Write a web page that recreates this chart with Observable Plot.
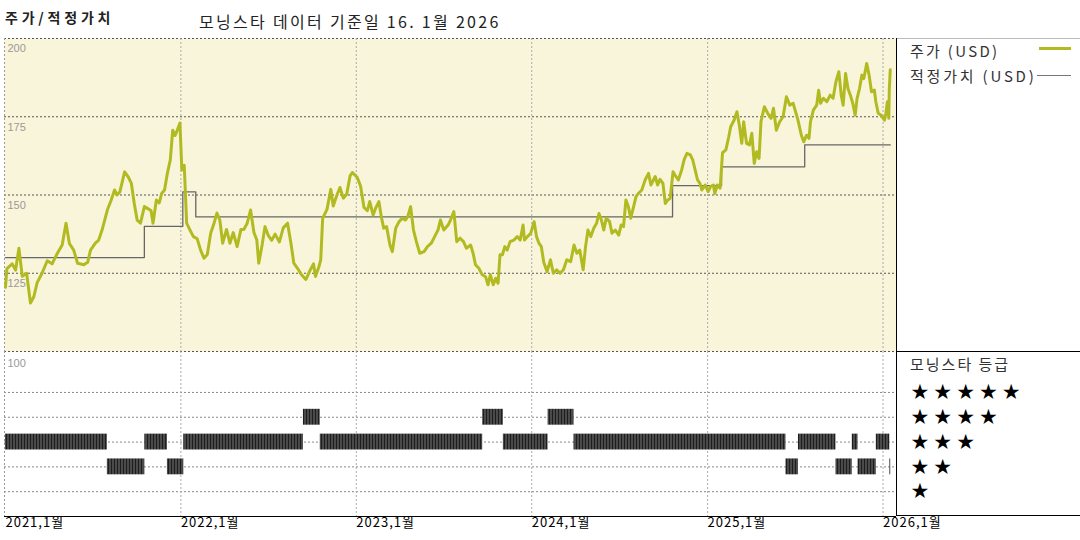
<!DOCTYPE html>
<html><head><meta charset="utf-8">
<script src="https://cdn.jsdelivr.net/npm/d3@7"></script>
<script src="https://cdn.jsdelivr.net/npm/@observablehq/plot@0.6"></script>
<style>
html,body{margin:0;padding:0;background:#fff;overflow:hidden;}
body{font-family:"Noto Sans CJK KR","Noto Sans",sans-serif;}
#wrap{position:relative;width:1080px;height:540px;overflow:hidden;}
.abs{position:absolute;line-height:1;white-space:nowrap;color:#222;}
svg{overflow:visible;}
</style></head><body><div id="wrap">
<div class="abs" style="left:5px;top:10px;font-size:14px;font-weight:bold;letter-spacing:3.8px;">주가/적정가치</div>
<div class="abs" style="left:199px;top:13px;font-size:16px;letter-spacing:2.3px;">모닝스타 데이터 기준일 16. 1월 2026</div>
<div id="top" style="position:absolute;left:0;top:30px;"></div>
<div id="bottom" style="position:absolute;left:0;top:350px;"></div>
<div style="position:absolute;left:896px;top:38px;width:184px;height:1px;background:#bbb;"></div>
<div style="position:absolute;left:896px;top:38px;width:1px;height:478px;background:#000;"></div>
<div style="position:absolute;left:896px;top:351px;width:184px;height:1px;background:#000;"></div>
<div style="position:absolute;left:896px;top:515px;width:184px;height:1px;background:#000;"></div>
<div class="abs" style="left:910px;top:43px;font-size:15px;letter-spacing:2.3px;color:#333;">주가 (USD)</div>
<div style="position:absolute;left:1039px;top:47px;width:32px;height:3px;background:#b2ba22;"></div>
<div class="abs" style="left:910px;top:68px;font-size:15px;letter-spacing:2.8px;color:#333;">적정가치 (USD)</div>
<div style="position:absolute;left:1037px;top:75px;width:34px;height:1px;background:#777;"></div>
<div class="abs" style="left:910px;top:356px;font-size:15px;letter-spacing:2px;color:#333;">모닝스타 등급</div>
</div>
<script>
// ---------- DATA ----------
const priceDates = [
"2021-01-01","2021-01-04","2021-01-15","2021-01-22","2021-01-29","2021-02-05","2021-02-14","2021-02-22","2021-03-01","2021-03-08",
"2021-03-18","2021-03-29","2021-04-08","2021-04-19","2021-04-29","2021-05-07","2021-05-14","2021-05-23","2021-05-31","2021-06-13",
"2021-06-21","2021-06-27","2021-07-07","2021-07-14","2021-07-21","2021-08-01","2021-08-09","2021-08-16","2021-08-21","2021-08-27",
"2021-09-06","2021-09-13","2021-09-20","2021-09-26","2021-10-02","2021-10-09","2021-10-17","2021-10-26","2021-10-31","2021-11-04",
"2021-11-11","2021-11-17","2021-11-22","2021-11-28","2021-12-04","2021-12-10","2021-12-15","2021-12-20","2021-12-24","2021-12-30",
"2022-01-03","2022-01-08","2022-01-13","2022-01-20","2022-01-27","2022-02-04","2022-02-11","2022-02-18","2022-02-25","2022-03-04",
"2022-03-11","2022-03-17","2022-03-23","2022-03-29","2022-04-06","2022-04-13","2022-04-20","2022-04-28","2022-05-06","2022-05-12",
"2022-05-19","2022-05-26","2022-06-02","2022-06-08","2022-06-12","2022-06-19","2022-06-25","2022-07-02","2022-07-09","2022-07-16",
"2022-07-25","2022-08-02","2022-08-11","2022-08-18","2022-08-24","2022-09-01","2022-09-09","2022-09-18","2022-09-27","2022-10-04",
"2022-10-08","2022-10-15","2022-10-19","2022-10-23","2022-11-01","2022-11-09","2022-11-14","2022-11-21","2022-11-28","2022-12-05",
"2022-12-12","2022-12-19","2022-12-24","2023-01-03","2023-01-10","2023-01-17","2023-01-24","2023-01-29","2023-02-05","2023-02-10",
"2023-02-17","2023-02-22","2023-02-27","2023-03-05","2023-03-12","2023-03-17","2023-03-24","2023-03-31","2023-04-07","2023-04-13",
"2023-04-18","2023-04-24","2023-04-30","2023-05-06","2023-05-13","2023-05-22","2023-05-29","2023-06-06","2023-06-13","2023-06-20",
"2023-06-25","2023-07-02","2023-07-11","2023-07-16","2023-07-23","2023-07-29","2023-08-05","2023-08-12","2023-08-18","2023-08-27",
"2023-09-01","2023-09-06","2023-09-13","2023-09-20","2023-09-27","2023-10-02","2023-10-07","2023-10-13","2023-10-18","2023-10-23",
"2023-10-27","2023-11-01","2023-11-06","2023-11-11","2023-11-17","2023-11-25","2023-12-02","2023-12-08","2023-12-14","2023-12-17",
"2023-12-23","2023-12-30","2024-01-06","2024-01-11","2024-01-16","2024-01-21","2024-01-26","2024-02-02","2024-02-09","2024-02-15",
"2024-02-22","2024-02-29","2024-03-07","2024-03-14","2024-03-22","2024-03-29","2024-04-04","2024-04-10","2024-04-17","2024-04-22",
"2024-04-27","2024-05-03","2024-05-09","2024-05-15","2024-05-20","2024-05-25","2024-05-30","2024-06-04","2024-06-11","2024-06-16",
"2024-06-23","2024-06-30","2024-07-05","2024-07-10","2024-07-15","2024-07-20","2024-07-25","2024-07-31","2024-08-05","2024-08-10",
"2024-08-17","2024-08-24","2024-08-31","2024-09-05","2024-09-14","2024-09-19","2024-09-24","2024-09-30","2024-10-05","2024-10-10",
"2024-10-15","2024-10-21","2024-10-25","2024-11-01","2024-11-08","2024-11-13","2024-11-19","2024-11-26","2024-12-01","2024-12-06",
"2024-12-11","2024-12-16","2024-12-20","2024-12-27","2025-01-02","2025-01-07","2025-01-13","2025-01-16","2025-01-21","2025-01-27",
"2025-02-01","2025-02-08","2025-02-14","2025-02-18","2025-02-25","2025-03-03","2025-03-08","2025-03-13","2025-03-17","2025-03-23",
"2025-03-29","2025-04-03","2025-04-08","2025-04-13","2025-04-18","2025-04-22","2025-04-29","2025-05-06","2025-05-13","2025-05-18",
"2025-05-24","2025-05-31","2025-06-07","2025-06-14","2025-06-21","2025-06-28","2025-07-03","2025-07-08","2025-07-15","2025-07-20",
"2025-07-26","2025-07-31","2025-08-03","2025-08-09","2025-08-16","2025-08-20","2025-08-24","2025-08-30","2025-09-06","2025-09-13",
"2025-09-19","2025-09-25","2025-10-01","2025-10-06","2025-10-10","2025-10-15","2025-10-20","2025-10-25","2025-10-30","2025-11-04",
"2025-11-08","2025-11-13","2025-11-18","2025-11-22","2025-11-28","2025-12-03","2025-12-08","2025-12-14","2025-12-17","2025-12-22",
"2025-12-28","2026-01-04","2026-01-07","2026-01-10","2026-01-13","2026-01-14","2026-01-16"
];
const priceValues = [
120.5,126.5,128,126,133,124,125,115.5,117.5,122,
125,129,128,131.4,134,141,134.5,132.4,128.2,127.7,
128.5,132.4,134.6,135.6,138.8,145.2,148.4,151.6,150,151,
157.4,155.9,153.7,147.3,142,141,146.3,145.5,145,141,
148.4,147.5,150.5,151.6,157,161.2,170.7,169,170.5,173,
158,159.5,141,138.8,136.7,136,132.4,129.8,131,137.8,
141,144.2,142,134.6,139,134.6,138,133.5,139,139,
141,145.2,138,135.6,128.2,134,139.9,137,135.5,137.5,
135,139.5,141,134.6,128.2,126.5,124.5,123,126,128,
124,127,129.3,142.5,145.4,151.8,146.5,149.7,152.4,149,
150.2,156.1,157.2,155.6,152.8,146,145,147.9,143.6,145.7,
147.9,143.1,139.4,139.9,134,131.9,139.4,141.5,142.6,142,
143.1,146.3,138.8,135.1,131.4,131.9,133.5,134.6,136.7,138.8,
142,138.8,140.4,142,144.7,135.1,136.2,135.1,133,134,
131.4,127.7,126.6,124.5,123.9,121.3,124.5,121.3,123.4,121.8,
130.9,130.9,133.5,132.4,135.1,135.6,136.7,135.6,140.4,135.6,
136.7,137.8,141.5,136.7,134.6,133.5,128.5,125.5,129.3,125,
126.1,125,126.1,129.3,128.7,134,131.4,132.4,126.1,133.5,
138.8,136.7,139.4,141,144.1,142,138.8,142.6,141.5,137.8,
138.8,137.2,140.4,139.9,148.4,146.3,142.6,146.3,149.5,150.5,
151.6,154.8,156.9,153.2,155.9,153.2,155,153.7,147.3,148.4,
148.9,157.4,156.4,154.8,158,161.2,163.3,162.8,161.2,158,
154.8,153.7,151.6,153.2,151.1,152.7,153.2,150.5,153.2,152.2,
163.5,164.4,168.6,171.8,173.9,176.6,172.3,166.5,173.4,166.5,
166,169.7,160.1,163.8,161.7,173.4,178.2,176.1,174.5,177.7,
170.7,173.4,175,181.4,178.7,179.3,176.6,173.9,169.1,167,
169.1,168.1,173.4,177.1,178.7,183.5,179.3,180.9,179.8,181.9,
180.9,186.2,189.4,181.9,178.7,188.8,184,181.9,179.3,175.5,
180.9,184,188.3,187.2,192,188.3,183,183.5,179.8,176.1,
175.5,173.9,176.1,179.8,174.5,183.5,190
];
const fairDates  = ["2021-01-01","2021-10-17","2022-01-05","2022-02-01","2024-10-20","2025-01-30","2025-07-22","2026-01-16"];
const fairValues = [130, 140, 151, 143, 153, 159, 166, 166];

const ratingStart = ["2021-01-01","2021-08-01","2021-10-18","2021-12-04","2022-01-07","2022-09-13","2022-10-18","2023-09-21","2023-11-03",
                     "2024-02-04","2024-03-29","2025-06-13","2025-07-09","2025-09-25","2025-10-29","2025-11-10","2025-12-18","2026-01-15"];
const ratingEnd   = ["2021-08-01","2021-10-18","2021-12-04","2022-01-07","2022-09-13","2022-10-18","2023-09-21","2023-11-03","2024-02-04",
                     "2024-03-29","2025-06-13","2025-07-09","2025-09-25","2025-10-29","2025-11-10","2025-12-18","2026-01-15","2026-01-17"];
const ratingStars = [3,2,3,2,3,4,3,4,3,4,3,2,3,2,3,2,3,2];

const priceTicks = [100, 125, 150, 175, 200];
const yearTickDates = ["2021-01-01","2022-01-01","2023-01-01","2024-01-01","2025-01-01","2026-01-01"];
const yearTickLabels = ["2021,1월","2022,1월","2023,1월","2024,1월","2025,1월","2026,1월"];
const starLevels = [5, 4, 3, 2, 1];
const starLabels = ["★★★★★","★★★★","★★★","★★","★"];

// ---------- CHART ----------
const parse = d3.utcParse("%Y-%m-%d");
const xDomain = [parse("2020-12-30"), parse("2026-01-29")];
const W = 1080, ML = 4, MR = 184;
const priceData = priceDates.map((d, i) => ({date: parse(d), value: priceValues[i]}));
const fairData = fairDates.map((d, i) => ({date: parse(d), value: fairValues[i]}));
const ratingData = ratingStart.map((s, i) => ({x1: parse(s), x2: parse(ratingEnd[i]), stars: ratingStars[i]}));
const yearTicks = yearTickDates.map(parse);
const KR = "'Noto Sans CJK KR', 'Noto Sans', sans-serif";
const NUM = "'Liberation Sans', 'DejaVu Sans', sans-serif";
const yTop = 6.65;

const topPlot = Plot.plot({
  width: W, height: 321, marginLeft: ML, marginRight: MR, marginTop: 8, marginBottom: 0,
  x: {type: "utc", domain: xDomain, axis: null},
  y: {domain: [100, 200], axis: null},
  style: {background: "transparent", fontFamily: KR, overflow: "visible"},
  marks: [
    Plot.frame({fill: "#f9f5da", stroke: "none"}),
    Plot.ruleY(priceTicks.slice(1), {stroke: "#555", strokeDasharray: "2,2", strokeWidth: 1}),
    Plot.ruleX(yearTicks.slice(1), {stroke: "#aaa", strokeDasharray: "2,2"}),
    Plot.ruleX([xDomain[0]], {stroke: "#999", strokeDasharray: "2,2"}),
    Plot.text(priceTicks.slice(1), {y: d => d, text: d => String(d), frameAnchor: "left", dx: 3, dy: 6,
      lineAnchor: "top", textAnchor: "start", fill: "#999", fontSize: 11, fontFamily: NUM}),
    Plot.line(fairData, {x: "date", y: "value", curve: "step-after", stroke: "#666", strokeWidth: 1.3}),
    Plot.line(priceData, {x: "date", y: "value", stroke: "#b2ba22", strokeWidth: 3, strokeLinejoin: "round"})
  ]
});
document.getElementById("top").appendChild(topPlot);

const bottomPlot = Plot.plot({
  width: W, height: 190, marginLeft: ML, marginRight: MR, marginTop: 1, marginBottom: 24,
  x: {type: "utc", domain: xDomain, axis: null},
  y: {domain: [0, yTop], axis: null},
  style: {background: "transparent", fontFamily: KR, overflow: "visible"},
  marks: [
    Plot.ruleY([yTop], {stroke: "#555", strokeDasharray: "2,2"}),
    Plot.ruleY(starLevels, {stroke: "#888", strokeDasharray: "2,2"}),
    Plot.ruleX(yearTicks.slice(1), {stroke: "#aaa", strokeDasharray: "2,2"}),
    Plot.ruleX([xDomain[0]], {stroke: "#999", strokeDasharray: "2,2"}),
    Plot.rect(ratingData, {x1: "x1", x2: "x2", y1: d => d.stars - 0.32, y2: d => d.stars + 0.32, fill: "url(#hatch)"}),
    Plot.ruleY([0], {stroke: "#000"}),
    Plot.text([priceTicks[0]], {text: d => String(d), frameAnchor: "top-left", dx: 3, dy: 8,
      lineAnchor: "top", textAnchor: "start", fill: "#999", fontSize: 11, fontFamily: NUM}),
    Plot.text(yearTickLabels, {x: (d, i) => yearTicks[i], text: d => d, frameAnchor: "bottom", lineAnchor: "top",
      textAnchor: "start", dy: 1, fill: "#000", fontSize: 13}),
    Plot.text(starLabels, {y: (d, i) => starLevels[i], text: d => d, frameAnchor: "right", dx: 14,
      textAnchor: "start", lineAnchor: "middle", fill: "#000", fontSize: 21, fontFamily: "'DejaVu Sans', sans-serif"})
  ]
});
const svgB = d3.select(bottomPlot);
svgB.selectAll("text").filter(function() { return this.textContent.includes("★"); })
  .style("letter-spacing", "4px");
svgB.selectAll("text").filter(function() { return this.textContent.includes("월"); })
  .style("letter-spacing", "1px");
const defs = svgB.insert("defs", ":first-child");
const pat = defs.append("pattern").attr("id", "hatch").attr("patternUnits", "userSpaceOnUse")
  .attr("width", 3).attr("height", 20);
pat.append("rect").attr("width", 3).attr("height", 20).attr("fill", "#4a4a4a");
pat.append("rect").attr("width", 1).attr("height", 20).attr("fill", "#1e1e1e");
document.getElementById("bottom").appendChild(bottomPlot);
</script>
</body></html>
